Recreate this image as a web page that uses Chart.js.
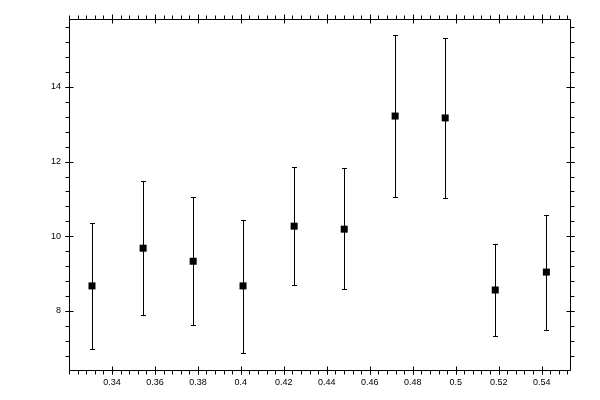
<!DOCTYPE html>
<html>
<head>
<meta charset="utf-8">
<script src="https://cdn.jsdelivr.net/npm/chart.js@4/dist/chart.umd.min.js"></script>
<style>
  html, body { margin: 0; padding: 0; background: #fff; }
  #wrap { width: 600px; height: 400px; }
</style>
</head>
<body>
<div id="wrap"><canvas id="chart" width="600" height="400"></canvas></div>
<script>
'use strict';
// data
var xValues = [0.3307, 0.3545, 0.3778, 0.4010, 0.4248, 0.4481, 0.4718, 0.4951, 0.5184, 0.5422];
var yValues = [8.67, 9.68, 9.33, 8.67, 10.27, 10.19, 13.22, 13.17, 8.56, 9.04];
var yHigh = [10.36, 11.48, 11.05, 10.43, 11.85, 11.83, 15.40, 15.32, 9.79, 10.57];
var yLow = [6.97, 7.88, 7.62, 6.87, 8.69, 8.58, 11.05, 11.02, 7.33, 7.49];

var xMajorTicks = [0.34, 0.36, 0.38, 0.40, 0.42, 0.44, 0.46, 0.48, 0.50, 0.52, 0.54];
var yMajorTicks = [8, 10, 12, 14];
var xRange = [0.32, 0.5532];
var yRange = [6.417, 15.82];
var xMinorStep = 0.004;
var yMinorStep = 0.4;

var points = xValues.map(function(x, i) {
    return { x: x, y: yValues[i] };
});

function minorValues(range, step) {
    var out = [];
    var n = Math.ceil(range[0] / step - 1e-6);
    for (var v = n * step; v <= range[1] + 1e-9; v = (++n) * step) {
        out.push(v);
    }
    return out;
}

function fmt(v) {
    return String(Math.round(v * 100) / 100);
}

// frame, tick marks and error bars
var framePlugin = {
    id: 'frame',
    afterDatasetsDraw: function(chart) {
        var ctx = chart.ctx;
        var a = chart.chartArea;
        var xs = chart.scales.x, ys = chart.scales.y;
        var L = Math.round(a.left) + 0.5, R = Math.round(a.right) + 0.5;
        var T = Math.round(a.top) + 0.5, B = Math.round(a.bottom) + 0.5;
        ctx.save();
        ctx.strokeStyle = '#000';
        ctx.lineWidth = 1;
        ctx.beginPath();
        ctx.rect(L, T, R - L, B - T);

        minorValues(xRange, xMinorStep).forEach(function(v) {
            var px = Math.round(xs.getPixelForValue(v)) + 0.5;
            ctx.moveTo(px, B); ctx.lineTo(px, B + 4);
            ctx.moveTo(px, T); ctx.lineTo(px, T - 4);
        });
        xMajorTicks.forEach(function(v) {
            var px = Math.round(xs.getPixelForValue(v)) + 0.5;
            ctx.moveTo(px, B - 4); ctx.lineTo(px, B + 4);
            ctx.moveTo(px, T + 4); ctx.lineTo(px, T - 5);
        });
        minorValues(yRange, yMinorStep).forEach(function(v) {
            var py = Math.round(ys.getPixelForValue(v)) + 0.5;
            ctx.moveTo(L, py); ctx.lineTo(L - 4, py);
            ctx.moveTo(R, py); ctx.lineTo(R + 4, py);
        });
        yMajorTicks.forEach(function(v) {
            var py = Math.round(ys.getPixelForValue(v)) + 0.5;
            ctx.moveTo(L - 4, py); ctx.lineTo(L + 4, py);
            ctx.moveTo(R + 4, py); ctx.lineTo(R - 4, py);
        });

        xValues.forEach(function(x, i) {
            var px = Math.round(xs.getPixelForValue(x)) + 0.5;
            var top = Math.round(ys.getPixelForValue(yHigh[i])) + 0.5;
            var bot = Math.round(ys.getPixelForValue(yLow[i])) + 0.5;
            ctx.moveTo(px, top); ctx.lineTo(px, bot);
            ctx.moveTo(px - 2.5, top); ctx.lineTo(px + 2.5, top);
            ctx.moveTo(px - 2.5, bot); ctx.lineTo(px + 2.5, bot);
        });
        ctx.stroke();
        ctx.restore();
    }
};

var tickFont = { family: 'Liberation Sans', size: 9 };

var chart = new Chart(document.getElementById('chart'), {
    type: 'scatter',
    data: {
        datasets: [{
            data: points,
            pointStyle: 'rect',
            pointRadius: 4.95,
            pointHoverRadius: 4.95,
            pointBorderWidth: 0,
            backgroundColor: '#000',
            borderColor: '#000'
        }]
    },
    plugins: [framePlugin],
    options: {
        responsive: false,
        animation: false,
        devicePixelRatio: 1,
        layout: { padding: { left: 0, top: 19, right: 30, bottom: 0 } },
        plugins: {
            legend: { display: false },
            tooltip: { enabled: false }
        },
        scales: {
            x: {
                type: 'linear',
                min: xRange[0],
                max: xRange[1],
                afterBuildTicks: function(scale) {
                    scale.ticks = xMajorTicks.map(function(v) { return { value: v }; });
                },
                afterFit: function(scale) { scale.height = 30; },
                grid: { display: false, drawTicks: false },
                border: { display: false },
                ticks: {
                    color: '#000',
                    font: tickFont,
                    padding: 7,
                    maxRotation: 0,
                    autoSkip: false,
                    callback: function(v) { return fmt(v); }
                }
            },
            y: {
                type: 'linear',
                min: yRange[0],
                max: yRange[1],
                afterBuildTicks: function(scale) {
                    scale.ticks = yMajorTicks.map(function(v) { return { value: v }; });
                },
                afterFit: function(scale) { scale.width = 69; },
                grid: { display: false, drawTicks: false },
                border: { display: false },
                ticks: {
                    color: '#000',
                    font: tickFont,
                    padding: 8,
                    autoSkip: false,
                    callback: function(v) { return fmt(v); }
                }
            }
        }
    }
});
</script>
</body>
</html>
